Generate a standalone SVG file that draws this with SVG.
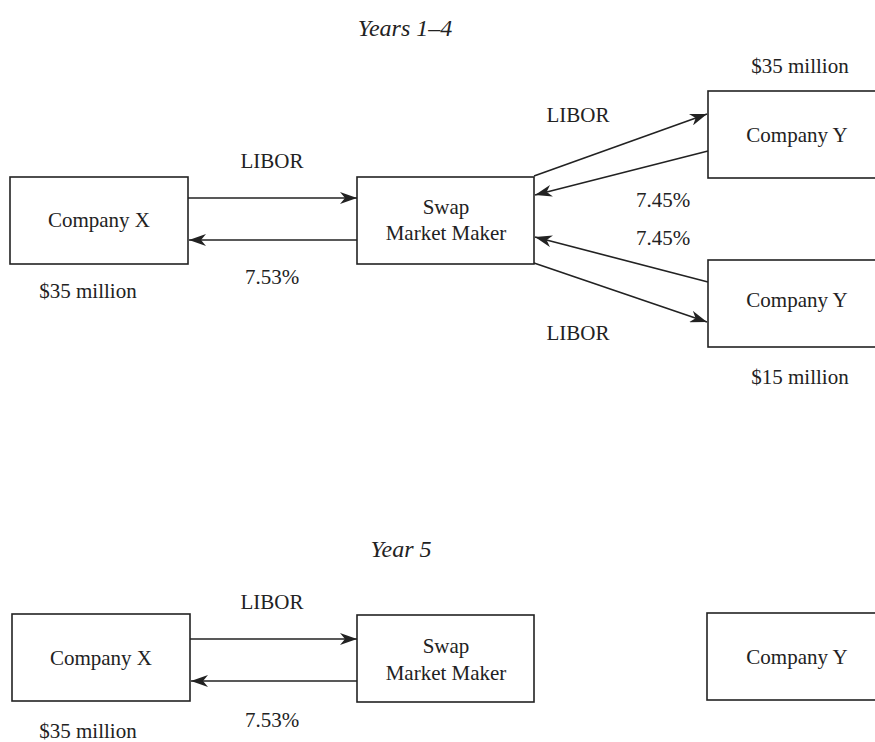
<svg xmlns="http://www.w3.org/2000/svg" width="875" height="742" viewBox="0 0 875 742">
<style>
.box{fill:#fff;stroke:#222;stroke-width:1.6}
.t{font-family:"Liberation Serif","DejaVu Serif",serif;font-size:21px;fill:#222;text-anchor:middle}
.ti{font-family:"Liberation Serif","DejaVu Serif",serif;font-size:24px;font-style:italic;fill:#222;text-anchor:middle}
.c{stroke:#222;stroke-width:1.6;fill:none;marker-end:url(#ah)}
</style>
<defs>
<marker id="ah" markerUnits="userSpaceOnUse" markerWidth="18" markerHeight="12" refX="17" refY="6" orient="auto">
<path d="M0,0 L17,6 L0,12 L5,6 z" fill="#222"/>
</marker>
</defs>
<rect width="875" height="742" fill="#fff"/>
<text class="ti" x="405" y="36">Years 1–4</text>
<text class="ti" x="401" y="557">Year 5</text>

<g id="connectors">
<line class="c" x1="188" y1="198" x2="357" y2="198"/>
<line class="c" x1="357" y1="240" x2="189" y2="240"/>
<line class="c" x1="534" y1="176" x2="707" y2="114"/>
<line class="c" x1="708" y1="151" x2="535" y2="195"/>
<line class="c" x1="708" y1="282" x2="535" y2="237"/>
<line class="c" x1="534" y1="263" x2="707" y2="322"/>
<line class="c" x1="190" y1="639" x2="357" y2="639"/>
<line class="c" x1="357" y1="681" x2="191" y2="681"/>
</g>

<g id="labels">
<text class="t" x="272" y="168">LIBOR</text>
<text class="t" x="272" y="284">7.53%</text>
<text class="t" x="88" y="298">$35 million</text>
<text class="t" x="578" y="122">LIBOR</text>
<text class="t" x="663" y="207">7.45%</text>
<text class="t" x="663" y="245">7.45%</text>
<text class="t" x="578" y="340">LIBOR</text>
<text class="t" x="800" y="73">$35 million</text>
<text class="t" x="800" y="384">$15 million</text>
<text class="t" x="272" y="609">LIBOR</text>
<text class="t" x="272" y="727">7.53%</text>
<text class="t" x="88" y="738">$35 million</text>
</g>

<g id="companyX1">
<rect class="box" x="10" y="177" width="178" height="87"/>
<text class="t" x="99" y="227">Company X</text>
</g>
<g id="swap1">
<rect class="box" x="357" y="177" width="177" height="87"/>
<text class="t" x="446" y="214">Swap</text>
<text class="t" x="446" y="240">Market Maker</text>
</g>
<g id="companyY1">
<rect class="box" x="708" y="91" width="180" height="87"/>
<text class="t" x="797" y="142">Company Y</text>
</g>
<g id="companyY2">
<rect class="box" x="708" y="260" width="180" height="87"/>
<text class="t" x="797" y="307">Company Y</text>
</g>
<g id="companyX2">
<rect class="box" x="12" y="614" width="178" height="87"/>
<text class="t" x="101" y="665">Company X</text>
</g>
<g id="swap2">
<rect class="box" x="357" y="615" width="177" height="87"/>
<text class="t" x="446" y="653">Swap</text>
<text class="t" x="446" y="680">Market Maker</text>
</g>
<g id="companyY3">
<rect class="box" x="707" y="613" width="180" height="87"/>
<text class="t" x="797" y="664">Company Y</text>
</g>
</svg>
